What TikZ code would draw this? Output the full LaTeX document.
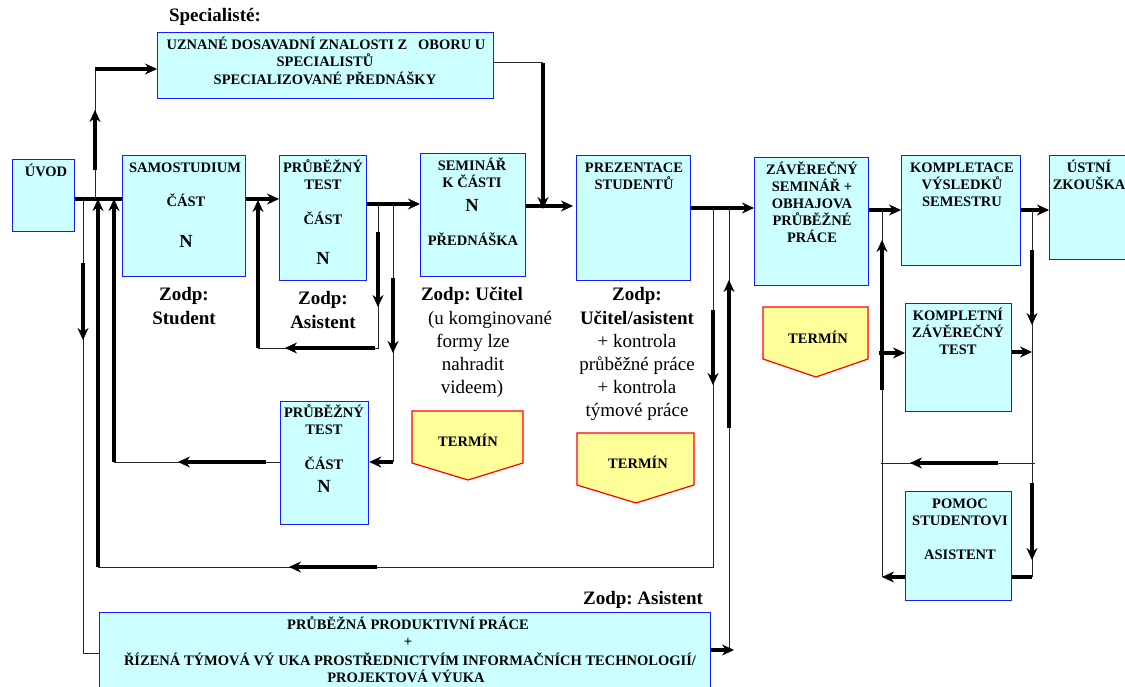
\documentclass[tikz,border=0pt]{standalone}
\usepackage{fontspec}
\setmainfont{Liberation Serif}
\usetikzlibrary{arrows.meta}
\definecolor{boxfill}{HTML}{CCFFFF}
\definecolor{boxline}{HTML}{1A1AFF}
\definecolor{termfill}{HTML}{FFFF99}
\definecolor{termline}{HTML}{FF0000}
\frenchspacing
\begin{document}
\begin{tikzpicture}[x=1pt,y=-1pt,
 box/.style={draw=boxline,line width=1.3pt,fill=boxfill,anchor=north west,inner sep=0pt},
 term/.style={draw=termline,line width=1.2pt,fill=termfill},
 bt/.style={font=\bfseries\fontsize{14.5}{17}\selectfont,anchor=base,inner sep=0pt},
 nt/.style={font=\bfseries\fontsize{18.5}{20}\selectfont,anchor=base,inner sep=0pt},
 lb/.style={font=\bfseries\fontsize{19}{23}\selectfont,anchor=base,inner sep=0pt},
 lr/.style={font=\fontsize{19}{23}\selectfont,anchor=base,inner sep=0pt},
 wire/.style={line width=1pt,draw=black!85},
 heavy/.style={line width=3.3pt,line cap=butt},
 arrowhd/.style={-{Stealth[length=12pt,width=11pt,inset=4pt,line width=0.5pt]}},
]
\useasboundingbox (0,0) rectangle (1125,687);

% boxes
\node[box,minimum width=336pt,minimum height=66pt] (spec) at (157,32) {};
\node[box,minimum width=62pt,minimum height=72pt] (uvod) at (12,159) {};
\node[box,minimum width=123pt,minimum height=121pt] (samo) at (122,155) {};
\node[box,minimum width=87pt,minimum height=125pt] (test1) at (279,155) {};
\node[box,minimum width=105pt,minimum height=123pt] (sem) at (420,153) {};
\node[box,minimum width=114pt,minimum height=125pt] (prez) at (576,155) {};
\node[box,minimum width=114pt,minimum height=128pt] (zav) at (754,157) {};
\node[box,minimum width=119pt,minimum height=110pt] (kompl) at (901,155) {};
\node[box,minimum width=100pt,minimum height=104pt] (ustni) at (1049,155) {};
\node[box,minimum width=88pt,minimum height=123pt] (test2) at (280,401) {};
\node[box,minimum width=106pt,minimum height=108pt] (kzt) at (905,303) {};
\node[box,minimum width=106pt,minimum height=109pt] (pomoc) at (905,491) {};
\node[box,minimum width=611pt,minimum height=80pt] (ppp) at (99,612) {};

% termin shapes
\draw[term] (412,411) -- (523,411) -- (523,463) -- (468,480) -- (412,463) -- cycle;
\draw[term] (577,433) -- (694,433) -- (694,485) -- (636,503) -- (577,485) -- cycle;
\draw[term] (763,307) -- (868,307) -- (868,359) -- (816,377) -- (763,359) -- cycle;

% texts
\node[lb] (specl) at (215,22) {Specialisté:};
\node[bt] (spec1) at (326,50) {UZNANÉ DOSAVADNÍ ZNALOSTI Z \ \ OBORU U};
\node[bt] (spec2) at (325,67) {SPECIALISTŮ};
\node[bt] (spec3) at (325,85) {SPECIALIZOVANÉ PŘEDNÁŠKY};

\node[bt] (uvod1) at (46,177) {ÚVOD};

\node[bt] (samo1) at (185,173) {SAMOSTUDIUM};
\node[bt] (samo2) at (186,207) {ČÁST};
\node[nt] (samo3) at (186,248) {N};
\node[lb] (samoz1) at (184,301) {Zodp:};
\node[lb] (samoz2) at (184,324) {Student};

\node[bt] (t11) at (323,173) {PRŮBĚŽNÝ};
\node[bt] (t12) at (323,190) {TEST};
\node[bt] (t13) at (323,225) {ČÁST};
\node[nt] (t14) at (323,265) {N};
\node[lb] (t1z1) at (323,305) {Zodp:};
\node[lb] (t1z2) at (323,328) {Asistent};

\node[bt] (sem1) at (472,171) {SEMINÁŘ};
\node[bt] (sem2) at (472,188) {K ČÁSTI};
\node[nt] (sem3) at (472,212) {N};
\node[bt] (sem4) at (473,246) {PŘEDNÁŠKA};
\node[lb] (semz1) at (472,301) {Zodp: Učitel};
\node[lr] (semz2) at (490,324) {(u komginované};
\node[lr] (semz3) at (473,347) {formy lze};
\node[lr] (semz4) at (473,370) {nahradit};
\node[lr] (semz5) at (472,393) {videem)};

\node[bt] (prez1) at (634,173) {PREZENTACE};
\node[bt] (prez2) at (634,190) {STUDENTŮ};
\node[lb] (prezz1) at (637,301) {Zodp:};
\node[lb] (prezz2) at (637,324) {Učitel/asistent};
\node[lr] (prezz3) at (637,347) {+ kontrola};
\node[lr] (prezz4) at (637,370) {průběžné práce};
\node[lr] (prezz5) at (637,393) {+ kontrola};
\node[lr] (prezz6) at (637,416) {týmové práce};

\node[bt] (zav1) at (812,175) {ZÁVĚREČNÝ};
\node[bt] (zav2) at (812,192) {SEMINÁŘ +};
\node[bt] (zav3) at (812,209) {OBHAJOVA};
\node[bt] (zav4) at (812,226) {PRŮBĚŽNÉ};
\node[bt] (zav5) at (812,243) {PRÁCE};

\node[bt] (kompl1) at (962,173) {KOMPLETACE};
\node[bt] (kompl2) at (962,190) {VÝSLEDKŮ};
\node[bt] (kompl3) at (962,207) {SEMESTRU};

\node[bt] (ustni1) at (1089,173) {ÚSTNÍ};
\node[bt] (ustni2) at (1089,190) {ZKOUŠKA};

\node[bt] (t21) at (324,417) {PRŮBĚŽNÝ};
\node[bt] (t22) at (324,434) {TEST};
\node[bt] (t23) at (324,469) {ČÁST};
\node[nt] (t24) at (324,492) {N};

\node[bt] (kzt1) at (958,320) {KOMPLETNÍ};
\node[bt] (kzt2) at (958,337) {ZÁVĚREČNÝ};
\node[bt] (kzt3) at (958,354) {TEST};

\node[bt] (pom1) at (960,508) {POMOC};
\node[bt] (pom2) at (960,525) {STUDENTOVI};
\node[bt] (pom3) at (960,559) {ASISTENT};

\node[lb] (pppz) at (643,604) {Zodp: Asistent};
\node[bt] (ppp1) at (408,629) {PRŮBĚŽNÁ PRODUKTIVNÍ PRÁCE};
\node[bt] (ppp2) at (408,646) {+};
\node[bt] (ppp3) at (410,665) {ŘÍZENÁ TÝMOVÁ VÝ UKA PROSTŘEDNICTVÍM INFORMAČNÍCH TECHNOLOGIÍ/};
\node[bt] (ppp4) at (406,682) {PROJEKTOVÁ VÝUKA};

\node[bt] (term1) at (468,446) {TERMÍN};
\node[bt] (term2) at (638,468) {TERMÍN};
\node[bt] (term3) at (818,343) {TERMÍN};

% levels
\coordinate (yA) at (0,199);
\coordinate (yB) at (0,204);
\coordinate (yC) at (0,206);
\coordinate (yD) at (0,208);
\coordinate (yE) at (0,210);

% main line
\draw[heavy] (uvod.east |- yA) -- (samo.west |- yA);
\draw[heavy,arrowhd] (samo.east |- yA) -- (test1.west |- yA);
\draw[heavy,arrowhd] (test1.east |- yB) -- (sem.west |- yB);
\draw[heavy,arrowhd] (sem.east |- yC) -- ([xshift=-3pt]prez.west |- yC);
\draw[heavy,arrowhd] (prez.east |- yD) -- (zav.west |- yD);
\draw[heavy,arrowhd] (zav.east |- yE) -- (kompl.west |- yE);
\draw[heavy,arrowhd] (kompl.east |- yE) -- (ustni.west |- yE);

% to specialists
\coordinate (b1) at (95,199); \coordinate (b2) at (95,69);
\draw[wire] (b1) -- (b2);
\draw[heavy,arrowhd] (95,170) -- (95,110);
\draw[heavy,arrowhd] (b2) -- (spec.west |- b2);
\coordinate (c1) at (543,63); \coordinate (c2) at (543,209);
\draw[wire] (spec.east |- c1) -- (c1);
\draw[heavy,arrowhd] (c1) -- (c2);

% down to project work
\coordinate (d1) at (83,199); \coordinate (d2) at (83,653);
\draw[wire] (d1) -- (d2) -- (ppp.west |- d2);
\draw[heavy,arrowhd] (83,263) -- (83,340);

% big loop from presentation
\coordinate (e1) at (713,208); \coordinate (e2) at (713,567);
\coordinate (e3) at (98,567); \coordinate (e4) at (98,199);
\draw[wire] (e1) -- (e2) -- (e3);
\draw[heavy,arrowhd] (713,310) -- (713,385);
\draw[heavy,arrowhd] (377,567) -- (289,567);
\draw[heavy,arrowhd] (e3) -- (e4);

% loop from second test
\coordinate (f1) at (114,462); \coordinate (f2) at (114,199);
\draw[wire] (test2.west |- f1) -- (f1);
\draw[heavy,arrowhd] (266,462) -- (178,462);
\draw[heavy,arrowhd] (f1) -- (f2);

% loop after first test
\coordinate (h1) at (378,204); \coordinate (h2) at (378,348);
\coordinate (h3) at (258,348); \coordinate (h4) at (258,200);
\draw[wire] (h1) -- (h2) -- (h3);
\draw[heavy,arrowhd] (378,232) -- (378,307);
\draw[heavy,arrowhd] (375,348) -- (285,348);
\draw[heavy,arrowhd] (h3) -- (h4);

% to second test
\coordinate (j1) at (393,204); \coordinate (j2) at (393,462);
\draw[wire] (j1) -- (j2);
\draw[heavy,arrowhd] (393,278) -- (393,353);
\draw[heavy,arrowhd] (j2) -- (test2.east |- j2);

% from project work up
\coordinate (m1) at (729,208); \coordinate (m2) at (729,650);
\draw[wire] (m1) -- (m2);
\draw[heavy,arrowhd] (729,428) -- (729,280);
\draw[heavy,arrowhd] (ppp.east |- m2) -- ([xshift=5pt]m2);

% right part
\coordinate (o1) at (882,210); \coordinate (o2) at (882,577); \coordinate (o3) at (879,353);
\draw[wire] (o1) -- (o2);
\draw[heavy,arrowhd] (882,390) -- (882,240);
\draw[heavy,arrowhd] (pomoc.west |- o2) -- (o2);
\draw[heavy,arrowhd] (o3) -- (kzt.west |- o3);

\coordinate (q1) at (1032,210); \coordinate (q2) at (1032,577); \coordinate (r1) at (1032,352);
\draw[wire] (q1) -- (q2);
\draw[heavy,arrowhd] (1032,250) -- (1032,325);
\draw[heavy,arrowhd] (1032,483) -- (1032,560);
\draw[heavy] (q2) -- (pomoc.east |- q2);
\draw[heavy,arrowhd] (kzt.east |- r1) -- (r1);

\coordinate (s1) at (1035,463); \coordinate (s2) at (881,463);
\draw[wire] (s1) -- (s2);
\draw[heavy,arrowhd] (998,463) -- (910,463);
\end{tikzpicture}
\end{document}
